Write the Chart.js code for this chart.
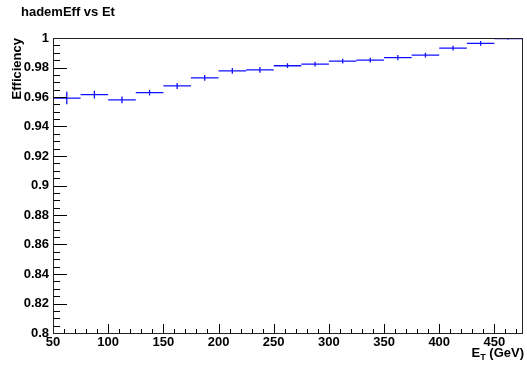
<!DOCTYPE html>
<html>
<head>
<meta charset="utf-8">
<script src="https://cdn.jsdelivr.net/npm/chart.js@4"></script>
<style>
  body { margin: 0; background: #fff; }
  canvas { display: block; }
</style>
</head>
<body>
<canvas id="effChart" width="527" height="370"></canvas>
<script>
// bin edges in Et (GeV)
const etEdges = [50, 75, 100, 125, 150, 175, 200, 225, 250, 275, 300, 325, 350, 375, 400, 425, 450, 475];
// efficiency per bin
const effValues = [0.9593, 0.9616, 0.9580, 0.9630, 0.9675, 0.9730, 0.9777, 0.9784, 0.9812,
                   0.9823, 0.9843, 0.9850, 0.9867, 0.9884, 0.9932, 0.9963, 0.9996];
// statistical errors
const effErrors = [0.0042, 0.0027, 0.0023, 0.0020, 0.0020, 0.0020, 0.0020, 0.0020, 0.0016,
                   0.0016, 0.0016, 0.0016, 0.0018, 0.0016, 0.0016, 0.0016, 0.0007];

const xTicks = [50, 100, 150, 200, 250, 300, 350, 400, 450];
const yTicks = [0.8, 0.82, 0.84, 0.86, 0.88, 0.9, 0.92, 0.94, 0.96, 0.98, 1];

const chartTitle = 'hademEff vs Et';
const yTitle = 'Efficiency';

// horizontal bin lines, broken by null points
const binLines = [];
const errLines = [];
effValues.forEach((v, i) => {
    const lo = etEdges[i], hi = etEdges[i + 1], mid = (lo + hi) / 2;
    binLines.push({ x: lo, y: v }, { x: hi, y: v }, { x: hi, y: null });
    errLines.push({ x: mid, y: v - effErrors[i] }, { x: mid, y: v + effErrors[i] }, { x: mid, y: null });
});

const FONT = 'Liberation Sans, Arial, Helvetica, sans-serif';
Chart.defaults.font.family = FONT;
Chart.defaults.color = '#000';

// ROOT style frame + inside ticks + texts
const rootFrame = {
    id: 'rootFrame',
    afterDatasetsDraw(chart) {
        const ctx = chart.ctx;
        const a = chart.chartArea;
        const xs = chart.scales.x, ys = chart.scales.y;
        ctx.save();
        ctx.strokeStyle = '#000';
        ctx.lineWidth = 1;
        ctx.beginPath();
        // y ticks: major 0.02, minor 0.005
        for (let k = 0; k <= 40; k++) {
            const v = 0.8 + k * 0.005;
            const py = Math.round(ys.getPixelForValue(v)) + 0.5;
            const len = (k % 4 === 0) ? 14 : 7;
            ctx.moveTo(a.left, py);
            ctx.lineTo(a.left + len, py);
        }
        // x ticks: major 50, minor 10
        for (let v = 50; v <= 475; v += 10) {
            const px = Math.round(xs.getPixelForValue(v)) + 0.5;
            const len = ((v - 50) % 50 === 0) ? 9 : 4;
            ctx.moveTo(px, a.bottom);
            ctx.lineTo(px, a.bottom - len);
        }
        ctx.stroke();
        ctx.strokeStyle = '#222';
        ctx.strokeRect(Math.round(a.left) + 0.5, Math.round(a.top) + 0.5,
                       Math.round(a.right - a.left), Math.round(a.bottom - a.top));
        ctx.restore();
    },
    afterDraw(chart) {
        const ctx = chart.ctx;
        ctx.save();
        ctx.fillStyle = '#000';
        ctx.font = 'bold 13px ' + FONT;
        ctx.textBaseline = 'alphabetic';
        ctx.textAlign = 'left';
        ctx.fillText(chartTitle, 21, 15.5);

        // y title, rotated
        ctx.save();
        ctx.translate(20.5, 38);
        ctx.rotate(-Math.PI / 2);
        ctx.textAlign = 'right';
        ctx.fillText(yTitle, 0, 0);
        ctx.restore();

        // x title E_T (GeV), right aligned
        const rest = ' (GeV)';
        ctx.font = 'bold 13px ' + FONT;
        const wRest = ctx.measureText(rest).width;
        ctx.font = 'bold 9px ' + FONT;
        const wT = ctx.measureText('T').width;
        ctx.font = 'bold 13px ' + FONT;
        const wE = ctx.measureText('E').width;
        const right = 524;
        const x0 = right - wRest - wT - wE;
        ctx.fillText('E', x0, 357);
        ctx.font = 'bold 9px ' + FONT;
        ctx.fillText('T', x0 + wE, 360);
        ctx.font = 'bold 13px ' + FONT;
        ctx.fillText(rest, x0 + wE + wT, 357);
        ctx.restore();
    }
};

const ctx = document.getElementById('effChart').getContext('2d');
const effChart = new Chart(ctx, {
    type: 'scatter',
    data: {
        datasets: [{
            label: 'bins',
            data: binLines,
            showLine: true,
            spanGaps: false,
            borderColor: '#1010ff',
            borderWidth: 1.3,
            pointRadius: 0
        }, {
            label: 'errors',
            data: errLines,
            showLine: true,
            spanGaps: false,
            borderColor: '#1010ff',
            borderWidth: 1.3,
            pointRadius: 0
        }]
    },
    options: {
        responsive: false,
        animation: false,
        layout: { padding: { left: 0, top: 38, right: 5, bottom: 0 } },
        plugins: {
            legend: { display: false },
            tooltip: { enabled: false }
        },
        scales: {
            x: {
                type: 'linear',
                min: 50,
                max: 475,
                grid: { display: false, drawTicks: false },
                border: { display: false },
                afterBuildTicks: (s) => { s.ticks = xTicks.map(v => ({ value: v })); },
                afterFit: (s) => { s.height = 37; },
                ticks: {
                    maxRotation: 0,
                    autoSkip: false,
                    padding: 2,
                    font: { size: 13, weight: 'bold' },
                    color: '#000'
                }
            },
            y: {
                type: 'linear',
                min: 0.8,
                max: 1,
                grid: { display: false, drawTicks: false },
                border: { display: false },
                afterBuildTicks: (s) => { s.ticks = yTicks.map(v => ({ value: v })); },
                afterFit: (s) => { s.width = 53; },
                ticks: {
                    autoSkip: false,
                    padding: 4,
                    font: { size: 13, weight: 'bold' },
                    color: '#000',
                    callback: (v) => String(Math.round(v * 100) / 100)
                }
            }
        }
    },
    plugins: [rootFrame]
});
</script>
</body>
</html>
